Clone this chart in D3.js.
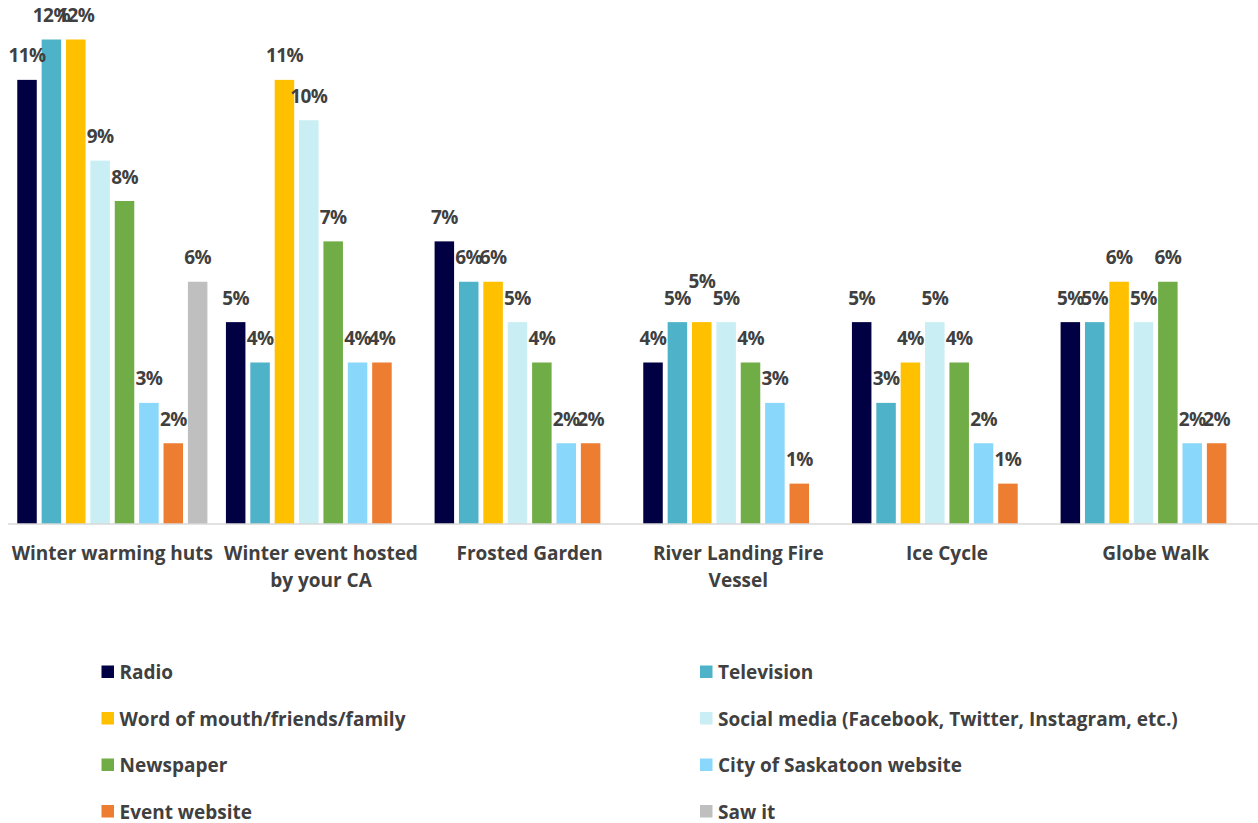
<!DOCTYPE html>
<html>
<head>
<meta charset="utf-8">
<script src="https://cdn.jsdelivr.net/npm/d3@7/dist/d3.min.js"></script>
<style>
  body { margin: 0; background: #fff; }
  svg { display: block; font-family: "Open Sans", sans-serif; font-weight: 700; }
  .lbl { fill: #404040; font-size: 19px; letter-spacing: -0.6px; }
  .cat { fill: #404040; font-size: 19px; }
  .leg { fill: #404040; font-size: 19px; }
</style>
</head>
<body>
<div id="chart"></div>
<script>
// categories along the x axis
const categories = ['Winter warming huts', 'Winter event hosted by your CA', 'Frosted Garden',
    'River Landing Fire Vessel', 'Ice Cycle', 'Globe Walk'];

const seriesNames = ['Radio', 'Television', 'Word of mouth/friends/family',
    'Social media (Facebook, Twitter, Instagram, etc.)', 'Newspaper',
    'City of Saskatoon website', 'Event website', 'Saw it'];

// percent values, one per category
const radio       = [11, 5, 7, 4, 5, 5];
const television  = [12, 4, 6, 5, 3, 5];
const wordOfMouth = [12, 11, 6, 5, 4, 6];
const socialMedia = [9, 10, 5, 5, 5, 5];
const newspaper   = [8, 7, 4, 4, 4, 6];
const cityWeb     = [3, 4, 2, 3, 2, 2];
const eventWeb    = [2, 4, 2, 1, 1, 2];
const sawIt       = [6, null, null, null, null, null];

const seriesValues = [radio, television, wordOfMouth, socialMedia, newspaper, cityWeb, eventWeb, sawIt];
const colors = ['#000042', '#4EB3C8', '#FFC000', '#C9EEF3', '#70AD47', '#89D7FA', '#ED7D31', '#BFBFBF'];

const width = 1258, height = 823;
const baseY = 524;

let svg = d3.select('#chart')
    .append('svg')
    .attr('width', width)
    .attr('height', height);

let x0 = d3.scaleBand()
    .domain(categories)
    .range([8, 1260]);

let x1 = d3.scaleBand()
    .domain(seriesNames)
    .range([0, x0.bandwidth()])
    .paddingInner(0.2)
    .paddingOuter(0.38);

let y = d3.scaleLinear()
    .domain([0, 12])
    .range([baseY, 39.5]);

let color = d3.scaleOrdinal()
    .domain(seriesNames)
    .range(colors);

// flatten into bar records
let bars = [];
categories.forEach(function(c, ci) {
    seriesNames.forEach(function(s, si) {
        let v = seriesValues[si][ci];
        if (v !== null) {
            bars.push({cat: c, series: s, si: si, value: v});
        }
    });
});

svg.append('g').attr('class', 'bars')
    .selectAll('rect')
    .data(bars)
    .enter()
    .append('rect')
    .attr('x', function(d) { return x0(d.cat) + x1(d.series); })
    .attr('y', function(d) { return y(d.value); })
    .attr('width', x1.bandwidth())
    .attr('height', function(d) { return y(0) - y(d.value); })
    .attr('fill', function(d) { return color(d.series); });

// axis line
let xAxis = d3.axisBottom(x0).tickSize(0).tickFormat('');
svg.append('g')
    .attr('transform', 'translate(0,' + baseY + ')')
    .call(xAxis)
    .call(function(g) {
        g.select('.domain').attr('stroke', '#D9D9D9').attr('stroke-width', 1.5)
            .attr('d', 'M8,0H1258');
    });

// value labels: a label squeezed between two neighbours of equal height is lifted
function sameValue(c, si, v) {
    let arr = seriesValues[si];
    return arr !== undefined && arr[categories.indexOf(c)] === v;
}

svg.append('g')
    .selectAll('text')
    .data(bars)
    .enter()
    .append('text')
    .attr('class', 'lbl')
    .attr('text-anchor', 'middle')
    .attr('x', function(d) { return x0(d.cat) + x1(d.series) + x1.bandwidth() / 2; })
    .attr('y', function(d) {
        let lift = (sameValue(d.cat, d.si - 1, d.value) && sameValue(d.cat, d.si + 1, d.value)) ? 17 : 0;
        return y(d.value) - 17.5 - lift;
    })
    .text(function(d) { return d.value + '%'; });

// category labels, wrapped to band width
let catG = svg.append('g');
categories.forEach(function(c) {
    let cx = x0(c) + x0.bandwidth() / 2;
    let t = catG.append('text')
        .attr('class', 'cat')
        .attr('text-anchor', 'middle')
        .attr('x', cx)
        .attr('y', 560);
    let words = c.split(' ');
    let line = [];
    let tspan = t.append('tspan').attr('x', cx).attr('dy', 0);
    words.forEach(function(w) {
        line.push(w);
        tspan.text(line.join(' '));
        if (tspan.node().getComputedTextLength() > 206 && line.length > 1) {
            line.pop();
            tspan.text(line.join(' '));
            line = [w];
            tspan = t.append('tspan')
                .attr('x', cx)
                .attr('dy', 27)
                .text(w);
        }
    });
});

// legend, two columns
let legItems = svg.append('g').attr('class', 'legend')
    .selectAll('g')
    .data(seriesNames)
    .enter()
    .append('g')
    .attr('transform', function(d, i) {
        let col = i % 2, row = Math.floor(i / 2);
        return 'translate(' + (col === 0 ? 101.5 : 700) + ',' + (665.5 + row * 46.5) + ')';
    });

legItems.append('rect')
    .attr('width', 12.5)
    .attr('height', 12.5)
    .attr('fill', function(d) { return color(d); });

legItems.append('text')
    .attr('class', 'leg')
    .attr('x', 18)
    .attr('y', 13.5)
    .text(function(d) { return d; });
</script>
</body>
</html>
